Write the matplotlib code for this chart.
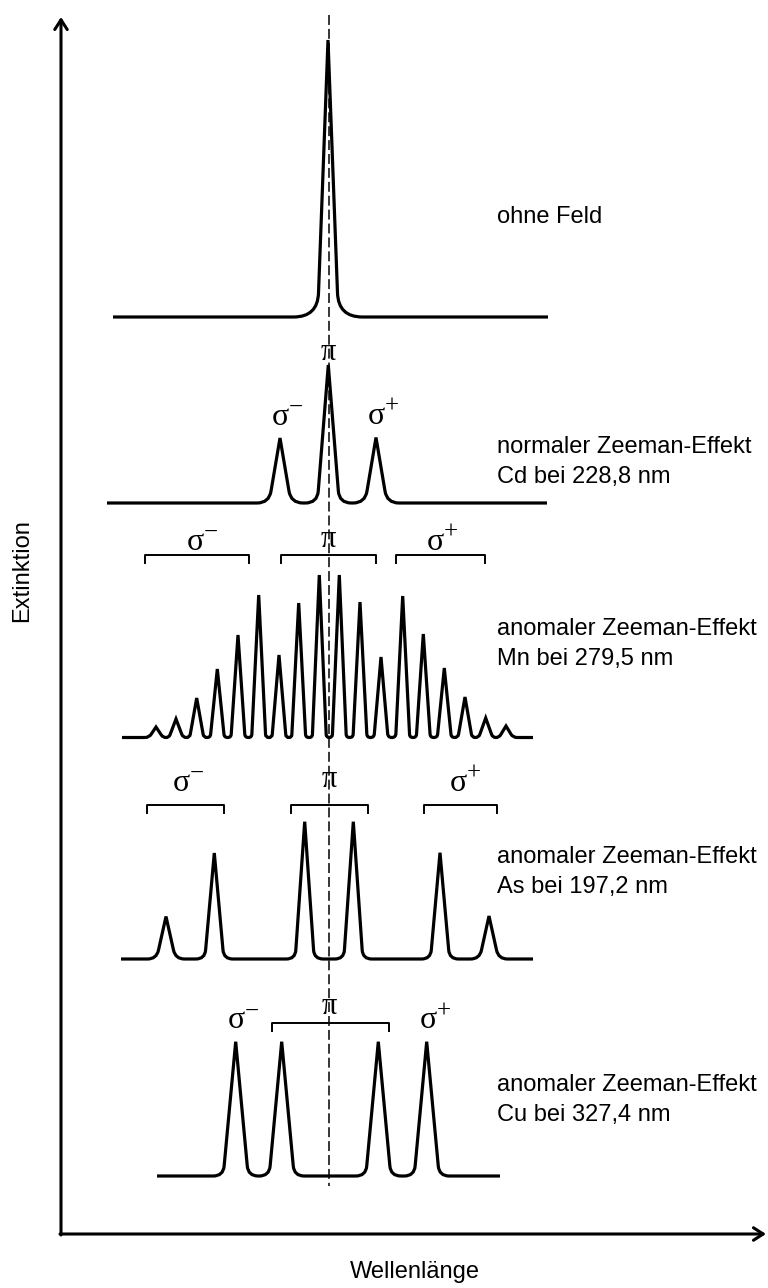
import matplotlib
matplotlib.use("Agg")
import numpy as np
import matplotlib.pyplot as plt
from matplotlib.path import Path
from matplotlib.patches import PathPatch

plt.rcParams["font.family"] = ["Liberation Sans", "DejaVu Sans"]
SERIF = ["Liberation Serif", "DejaVu Serif"]

# --- Daten (Bildkoordinaten, y nach unten) ---
# ohne Feld
ohne_x = [328.0]
ohne_top = [40.0]
# normaler Zeeman-Effekt, Cd
cd_x = [280.0, 328.3, 376.0]
cd_top = [438.0, 365.0, 437.5]
# anomaler Zeeman-Effekt, Mn
mn_x = [156, 176, 196.7, 217.3, 238, 258.7, 279, 298.7, 319.3,
        339.3, 360, 381, 402.7, 423.3, 444.3, 465, 485.7, 506]
mn_top = [727, 719, 698, 669, 635, 595, 655, 603, 575,
          575, 602, 657, 596, 634, 668, 697, 718, 726]
# anomaler Zeeman-Effekt, As
as_x = [166, 214.3, 304.7, 353.3, 440, 489]
as_top = [916.5, 853, 821.7, 821.7, 852.7, 916]
# anomaler Zeeman-Effekt, Cu
cu_x = [235.7, 281.7, 378.3, 426.7]
cu_top = [1041.7, 1041.7, 1041.7, 1041.7]

# (Peaks, Spitzen, Grundlinie, x Anfang, x Ende, halbe Breite, Fußradius)
spectra = [
    (ohne_x, ohne_top, 317, 113, 548, 10.4, 24),
    (cd_x, cd_top, 503, 107, 547, 11, 12),
    (mn_x, mn_top, 737.5, 122, 533, 7, 4),
    (as_x, as_top, 959, 121, 533, 9.5, 9),
    (cu_x, cu_top, 1176, 157, 500, 12.5, 10),
]

labels = [
    ("ohne Feld", 217),
    ("normaler Zeeman-Effekt\nCd bei 228,8 nm", 462),
    ("anomaler Zeeman-Effekt\nMn bei 279,5 nm", 644),
    ("anomaler Zeeman-Effekt\nAs bei 197,2 nm", 872),
    ("anomaler Zeeman-Effekt\nCu bei 327,4 nm", 1100),
]

# Klammern: (x0, x1, y)
brackets = [
    (145, 249.3, 555), (280.7, 376, 555), (395.7, 485, 555),
    (146.7, 224.3, 805), (290.7, 368.3, 805), (424.3, 496.7, 805),
    (271.7, 389.3, 1023),
]
# sigma-Beschriftungen: (Hochzeichen, x des σ, y)
sigma_labels = [
    ("\u2212", 280, 417), ("+", 376, 416),
    ("\u2212", 195, 542), ("+", 435, 542),
    ("\u2212", 181, 783), ("+", 458, 783),
    ("\u2212", 236, 1021), ("+", 428, 1021),
]
# pi-Beschriftungen: (x, y)
pi_labels = [(328.3, 352), (328.3, 539), (329.3, 779), (329.3, 1006)]


def spectrum_path(xs, tops, base, x0, x1, hw, r):
    verts = [(x0, base)]
    codes = [Path.MOVETO]
    n = len(xs)
    for i, (xc, top) in enumerate(zip(xs, tops)):
        cl, cr = xc - hw, xc + hw
        gap_l = (cl - (xs[i - 1] + hw)) if i > 0 else 2 * r
        gap_r = ((xs[i + 1] - hw) - cr) if i < n - 1 else 2 * r
        rl = max(min(r, gap_l / 2), 0.5)
        rr = max(min(r, gap_r / 2), 0.5)
        L = np.hypot(hw, base - top)
        ux, uy = hw / L, (top - base) / L
        verts += [(cl - rl, base), (cl, base), (cl + rl * ux, base + rl * uy), (xc, top),
                  (cr - rr * ux, base + rr * uy), (cr, base), (cr + rr, base)]
        codes += [Path.LINETO, Path.CURVE3, Path.CURVE3, Path.LINETO,
                  Path.LINETO, Path.CURVE3, Path.CURVE3]
    verts.append((x1, base))
    codes.append(Path.LINETO)
    return Path(verts, codes)


fig = plt.figure(figsize=(7.68, 12.88), dpi=100)
ax = fig.add_axes([0, 0, 1, 1])
ax.set_xlim(0, 768)
ax.set_ylim(1288, 0)
ax.axis("off")

# Achsen mit Pfeilen
arrow = dict(arrowstyle="->,head_length=0.7,head_width=0.45", lw=2.2,
             color="black", shrinkA=0, shrinkB=0)
ax.annotate("", xy=(61, 17), xytext=(61, 1235), arrowprops=arrow)
ax.annotate("", xy=(766, 1234), xytext=(60, 1234), arrowprops=arrow)
ax.text(22, 571, "Extinktion", rotation=90, ha="center", va="center", fontsize=17)
ax.text(415, 1272, "Wellenlänge", ha="center", va="center", fontsize=17)

# Mittellinie
ax.plot([329, 329], [15, 1186], color="black", lw=1.1, dashes=(6.5, 2.6))

for xs, tops, base, x0, x1, hw, r in spectra:
    p = spectrum_path(xs, tops, base, x0, x1, hw, r)
    ax.add_patch(PathPatch(p, fill=False, lw=2.3, ec="black",
                           joinstyle="miter", capstyle="butt"))

for x0, x1, y in brackets:
    ax.plot([x0, x0, x1, x1], [y + 8, y, y, y + 8], color="black", lw=1.4)

for sup, x, y in sigma_labels:
    ax.text(x, y, "σ", ha="center", va="center", fontsize=23, family=SERIF)
    ax.text(x + 9, y - 9, sup, ha="left", va="center", fontsize=18, family=SERIF)

for x, y in pi_labels:
    ax.text(x, y, "π", ha="center", va="center", fontsize=22, family=SERIF)

for txt, y in labels:
    ax.text(497, y, txt, ha="left", va="center", fontsize=17, linespacing=1.45)

fig.savefig("out.png", dpi=100, facecolor="white")
